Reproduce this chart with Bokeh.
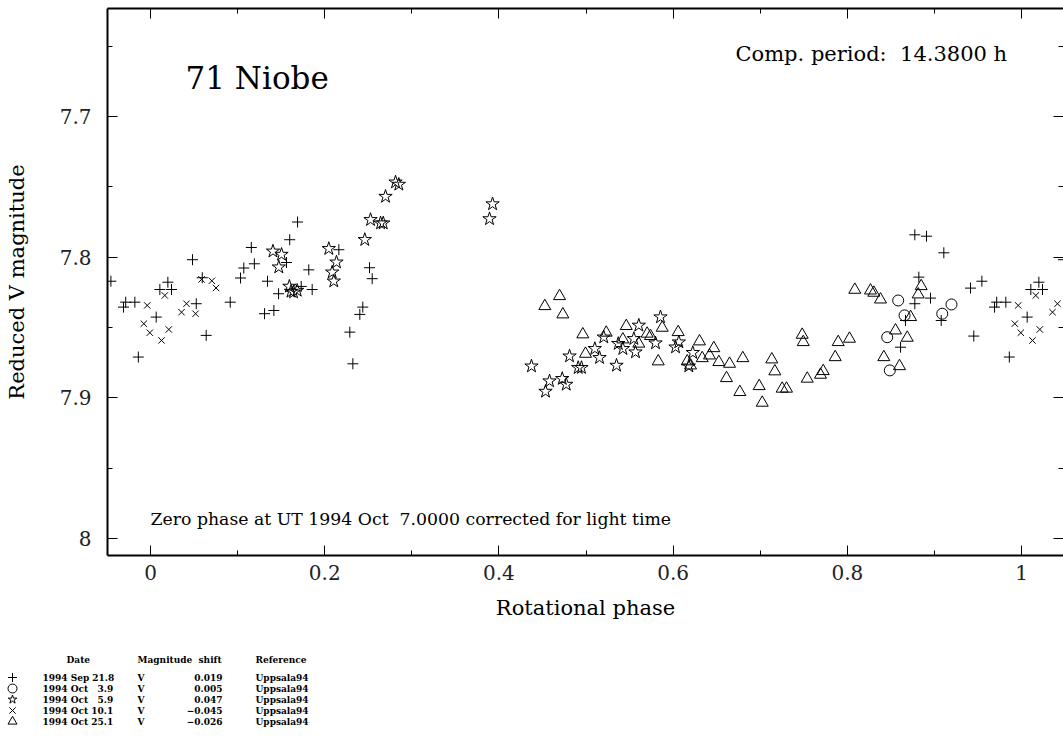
from bokeh.plotting import figure
from bokeh.models import Range1d, FixedTicker, LinearAxis, PrintfTickFormatter, ColumnDataSource
from bokeh.layouts import column
from bokeh.embed import file_html
from bokeh.resources import INLINE
from bokeh.core.properties import value

# ---------------- data (rotational phase, reduced V magnitude) ----------------
sep21_phase = [0.8775, 0.8909, 0.9108, 0.8821, 0.8775, 0.8668, 0.8611, 0.8955, 0.9078,
               0.9414, 0.9545, 0.9452, 0.9690, 0.9715, 0.9820, 0.9860,
               0.0065, 0.0107, 0.0199, 0.0241, 0.0482, 0.0525, 0.0594, 0.0639, 0.0915,
               0.1033, 0.1071, 0.1157, 0.1192, 0.1309, 0.1343, 0.1416, 0.1470, 0.1561,
               0.1598, 0.1688, 0.1730, 0.1817, 0.1856, 0.2162, 0.2288, 0.2323, 0.2403,
               0.2437, 0.2514, 0.2545]
sep21_mag = [7.7841, 7.7851, 7.7969, 7.8142, 7.8331, 7.8450, 7.8640, 7.8291, 7.8450,
             7.8220, 7.8171, 7.8561, 7.8355, 7.8320, 7.8320, 7.8710,
             7.8426, 7.8230, 7.8178, 7.8230, 7.8018, 7.8331, 7.8146, 7.8556, 7.8320,
             7.8148, 7.8077, 7.7931, 7.8047, 7.8402, 7.8171, 7.8379, 7.8260, 7.8038,
             7.7876, 7.7750, 7.8208, 7.8090, 7.8230, 7.7947, 7.8533, 7.8758, 7.8407,
             7.8355, 7.8075, 7.8153]

oct03_phase = [0.8458, 0.8488, 0.8584, 0.8657, 0.9090, 0.9196]
oct03_mag = [7.8569, 7.8805, 7.8308, 7.8414, 7.8402, 7.8336]

oct05_phase = [0.1406, 0.1504, 0.1473, 0.1594, 0.1613, 0.1642, 0.1684, 0.2047, 0.2135,
               0.2086, 0.2104, 0.2460, 0.2526, 0.2641, 0.2672, 0.2698, 0.2813, 0.2851,
               0.3892, 0.3927, 0.4374, 0.4535, 0.4581, 0.4727, 0.4773, 0.4811, 0.4910,
               0.4948, 0.5101, 0.5155, 0.5204, 0.5350, 0.5370, 0.5423, 0.5549, 0.5568,
               0.5606, 0.5798, 0.5855, 0.6028, 0.6066, 0.6180, 0.6226]
oct05_mag = [7.7958, 7.7981, 7.8071, 7.8208, 7.8244, 7.8249, 7.8237, 7.7940, 7.8036,
             7.8107, 7.8171, 7.7876, 7.7734, 7.7758, 7.7758, 7.7569, 7.7467, 7.7483,
             7.7728, 7.7622, 7.8775, 7.8955, 7.8881, 7.8864, 7.8905, 7.8704, 7.8786,
             7.8786, 7.8651, 7.8715, 7.8569, 7.8770, 7.8615, 7.8651, 7.8580, 7.8675,
             7.8485, 7.8611, 7.8426, 7.8640, 7.8604, 7.8775, 7.8679]

oct10_phase = [0.9923, 0.9962, 0.9992, 0.0126, 0.0164, 0.0210, 0.0356, 0.0413, 0.0517,
               0.0586, 0.0704, 0.0752]
oct10_mag = [7.8473, 7.8343, 7.8537, 7.8592, 7.8272, 7.8514, 7.8391, 7.8331, 7.8402,
             7.8158, 7.8168, 7.8219]

oct25_phase = [0.4527, 0.4696, 0.4734, 0.4963, 0.4994, 0.5232, 0.5423, 0.5462,
               0.5606, 0.5702, 0.5740, 0.5829, 0.5875, 0.6058, 0.6162, 0.6200, 0.6303,
               0.6334, 0.6418, 0.6467, 0.6525, 0.6613, 0.6648, 0.6766, 0.6800, 0.6988,
               0.7023, 0.7133, 0.7168, 0.7252, 0.7302, 0.7482, 0.7494, 0.7540, 0.7692,
               0.7723, 0.7861, 0.7895, 0.8025,
               0.8086, 0.8266, 0.8304, 0.8381, 0.8419, 0.8553, 0.8599, 0.8688, 0.8726,
               0.8814, 0.8848]
oct25_mag = [7.8348, 7.8277, 7.8407, 7.8549, 7.8687, 7.8537, 7.8585, 7.8490,
             7.8615, 7.8544, 7.8561, 7.8741, 7.8502, 7.8533, 7.8741, 7.8770, 7.8599,
             7.8718, 7.8699, 7.8647, 7.8746, 7.8860, 7.8758, 7.8959, 7.8718, 7.8917,
             7.9035, 7.8727, 7.8812, 7.8935, 7.8935, 7.8552, 7.8604, 7.8864, 7.8836,
             7.8810, 7.8711, 7.8604, 7.8580,
             7.8232, 7.8237, 7.8253, 7.8301, 7.8711, 7.8521, 7.8775, 7.8573, 7.8426,
             7.8265, 7.8206]

x_ticks = [0, 0.2, 0.4, 0.6, 0.8, 1.0]
x_minor = [0.1, 0.3, 0.5, 0.7, 0.9]
y_ticks = [7.7, 7.8, 7.9, 8.0]
y_minor = [7.65, 7.75, 7.85, 7.95]

NB = "\u00a0"
FS = "\u2007"
legend_dates = ["1994 Sep 21.8", "1994 Oct " + FS + "3.9", "1994 Oct " + FS + "5.9",
                "1994 Oct 10.1", "1994 Oct 25.1"]
legend_band = ["V", "V", "V", "V", "V"]
legend_shift = ["0.019", "0.005", "0.047", "\u22120.045", "\u22120.026"]
legend_ref = ["Uppsala94"] * 5
legend_markers = ["cross", "circle", "star", "x", "triangle"]

X_MIN, X_MAX = -0.0494, 1.0482
Y_BOTTOM, Y_TOP = 8.0121, 7.6232

SERIF = "DejaVu Serif"


def wrap(ph, mag):
    xs, ys = [], []
    for x, y in zip(ph, mag):
        for s in (-1, 0, 1):
            if X_MIN <= x + s <= X_MAX:
                xs.append(x + s)
                ys.append(y)
    return xs, ys


p = figure(width=1063, height=625, x_range=Range1d(X_MIN, X_MAX),
           y_range=Range1d(Y_BOTTOM, Y_TOP), output_backend="svg",
           toolbar_location=None, min_border_left=107, min_border_right=0,
           min_border_top=8, min_border_bottom=70,
           x_axis_label="Rotational phase", y_axis_label="Reduced V magnitude")
p.frame_align = False
p.grid.visible = False
p.outline_line_color = None
p.background_fill_color = "white"
p.border_fill_color = "white"

xt = FixedTicker(ticks=x_ticks, minor_ticks=x_minor)
yt = FixedTicker(ticks=y_ticks, minor_ticks=y_minor)
fmt = PrintfTickFormatter(format="%g")

for ax in (p.xaxis[0], p.yaxis[0]):
    ax.axis_line_width = 2
    ax.axis_line_color = "black"
    ax.major_tick_in = 10
    ax.major_tick_out = 0
    ax.minor_tick_in = 5
    ax.minor_tick_out = 0
    ax.major_tick_line_color = "black"
    ax.minor_tick_line_color = "black"
    ax.major_label_text_font = SERIF
    ax.major_label_text_font_size = "20px"
    ax.major_label_text_color = "#222222"
    ax.axis_label_text_font = SERIF
    ax.axis_label_text_font_size = "21px"
    ax.axis_label_text_font_style = "normal"
    ax.axis_label_text_color = "black"
    ax.formatter = fmt

p.xaxis[0].ticker = xt
p.yaxis[0].ticker = yt
p.xaxis[0].major_label_standoff = 9
p.xaxis[0].axis_label_standoff = 13
p.yaxis[0].major_label_standoff = 16
p.yaxis[0].axis_label_standoff = 28

top = LinearAxis(ticker=xt, major_label_text_font_size="1px", major_label_text_color=None,
                 major_label_standoff=0, axis_line_width=2, major_tick_in=10,
                 major_tick_out=0, minor_tick_in=5, minor_tick_out=0)
p.add_layout(top, "above")
right = LinearAxis(ticker=yt, major_label_text_font_size="1px", major_label_text_color=None,
                   major_label_standoff=0, axis_line_color=None, major_tick_in=10,
                   major_tick_out=0, minor_tick_in=5, minor_tick_out=0)
p.add_layout(right, "right")

x1, y1 = wrap(sep21_phase, sep21_mag)
p.scatter(x1, y1, marker="cross", size=11, line_color="black", line_width=1)
x2, y2 = wrap(oct03_phase, oct03_mag)
p.scatter(x2, y2, marker="circle", size=11, line_color="black", fill_color=None, line_width=1)
x3, y3 = wrap(oct05_phase, oct05_mag)
p.scatter(x3, y3, marker="star", size=14, line_color="black", fill_color=None, line_width=1)
x4, y4 = wrap(oct10_phase, oct10_mag)
p.scatter(x4, y4, marker="x", size=9, line_color="black", line_width=1)
x5, y5 = wrap(oct25_phase, oct25_mag)
p.scatter(x5, y5, marker="triangle", size=12, line_color="black", fill_color=None, line_width=1)

p.text(x=[0.0402], y=[7.6723], text=["71 Niobe"], text_font=value(SERIF),
       text_font_size="31px", text_baseline="middle", text_align="left", text_color="black")
p.text(x=[0.6716], y=[7.6552], text=["Comp. period:" + NB + NB + "14.3800 h"], text_font=value(SERIF),
       text_font_size="21px", text_baseline="middle", text_align="left", text_color="black")
p.text(x=[0.0], y=[7.9864], text=["Zero phase at UT 1994 Oct" + NB + NB + "7.0000 corrected for light time"],
       text_font=value(SERIF), text_font_size="17.3px", text_baseline="middle",
       text_align="left", text_color="black")

# ---------------- legend table ----------------
q = figure(width=1063, height=125, x_range=Range1d(0, 1063), y_range=Range1d(125, 0),
           output_backend="svg", toolbar_location=None, min_border=0,
           x_axis_location=None, y_axis_location=None)
q.frame_align = False
q.grid.visible = False
q.outline_line_color = None

head_y = 34
row_y = [52 + 11 * i for i in range(len(legend_dates))]
LFONT = value(SERIF)
LSIZE = "9px"
q.text(x=[66, 137, 255], y=[head_y] * 3, text=["Date", "Magnitude" + NB + NB + "shift", "Reference"],
       text_font=LFONT, text_font_size=LSIZE, text_font_style="bold",
       text_baseline="middle", text_color="black")
src = ColumnDataSource(dict(x=[12] * len(row_y), y=row_y, m=legend_markers))
q.scatter("x", "y", marker="m", source=src, size=9, line_color="black",
          fill_color=None, line_width=1)
q.text(x=[42] * 5, y=row_y, text=legend_dates, text_font=LFONT, text_font_size=LSIZE,
       text_font_style="bold", text_baseline="middle", text_color="black")
q.text(x=[137] * 5, y=row_y, text=legend_band, text_font=LFONT, text_font_size=LSIZE,
       text_font_style="bold", text_baseline="middle", text_color="black")
q.text(x=[222] * 5, y=row_y, text=legend_shift, text_font=LFONT, text_font_size=LSIZE,
       text_font_style="bold", text_baseline="middle", text_align="right", text_color="black")
q.text(x=[255] * 5, y=row_y, text=legend_ref, text_font=LFONT, text_font_size=LSIZE,
       text_font_style="bold", text_baseline="middle", text_color="black")

layout = column(p, q, spacing=0)
open("out.html", "w").write(file_html(layout, INLINE))
